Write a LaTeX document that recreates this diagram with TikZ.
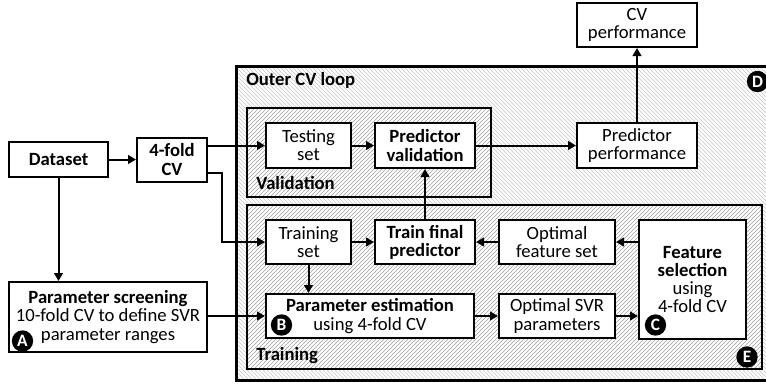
\documentclass[tikz,border=0pt]{standalone}
\usepackage{fontspec}
\setmainfont{Carlito}
\usetikzlibrary{arrows.meta,patterns}
\begin{document}
\begin{tikzpicture}[x=0.75pt,y=-0.75pt,
  font=\fontsize{14}{13.6}\selectfont,
  box/.style={draw, line width=1.5pt, fill=white, inner sep=0pt, align=center},
  sz/.style 2 args={minimum width=#1, minimum height=#2},
  arr/.style={-{Triangle[length=6pt,width=6.5pt]}, line width=1.5pt},
  ln/.style={line width=1.5pt},
  badge/.style={circle, fill=black, text=white, inner sep=0pt, minimum size=16pt, font=\fontsize{13}{13}\selectfont\bfseries},
  lbl/.style={anchor=west, inner sep=0pt, font=\fontsize{14}{13.6}\selectfont\bfseries}]
\useasboundingbox (0,0) rectangle (766,383);
% outer CV loop
\fill[white] (236,66) rectangle (772,380);
\fill[pattern=north west lines, pattern color=gray!45] (236,66) rectangle (772,380);
\draw[line width=2.25pt] (236,66) rectangle (772,380);
\node[lbl] (outerlbl) at (246,80) {Outer CV loop};
% validation box
\fill[white] (247,108) rectangle (491,197);
\fill[pattern=north east lines, pattern color=gray!75] (247,108) rectangle (491,197);
\draw[ln] (247,108) rectangle (491,197);
\node[lbl] (vallbl) at (256,183) {Validation};
% training box
\fill[white] (247,205) rectangle (762,369);
\fill[pattern=north east lines, pattern color=gray!75] (247,205) rectangle (762,369);
\draw[ln] (247,205) rectangle (762,369);
\node[lbl] (trlbl) at (256,356) {Training};
% nodes
\node[box, sz={74.25pt}{26.25pt}] (dataset) at (58.5,159.5) {\textbf{Dataset}};
\node[box, sz={52.5pt}{33pt}] (fourfold) at (172,159.5) {\textbf{4-fold}\\\textbf{CV}};
\node[box, sz={148.5pt}{52.5pt}] (screen) at (108,317) {\textbf{Parameter screening}\\10-fold CV to define SVR\\parameter ranges};
\node[box, sz={63.75pt}{33.75pt}] (testing) at (308.5,145.5) {Testing\\set};
\node[box, sz={75pt}{33.75pt}] (predval) at (425,145.5) {\textbf{Predictor}\\\textbf{validation}};
\node[box, sz={90pt}{33.75pt}] (predperf) at (637,145.5) {Predictor\\performance};
\node[box, sz={90pt}{33pt}] (cvperf) at (637,25) {CV\\performance};
\node[box, sz={63.75pt}{33pt}] (trainset) at (308.5,242) {Training\\set};
\node[box, sz={75pt}{33pt}] (trainfinal) at (425,242) {\textbf{Train final}\\\textbf{predictor}};
\node[box, sz={87pt}{33pt}] (optfeat) at (557,242) {Optimal\\feature set};
\node[box, sz={80.25pt}{89.25pt}] (featsel) at (692.5,279.5) {\textbf{Feature}\\\textbf{selection}\\using\\4-fold CV};
\node[box, sz={156pt}{33pt}] (est) at (370,316) {\textbf{Parameter estimation}\\using 4-fold CV};
\node[box, sz={87pt}{33pt}] (optsvr) at (557,316) {Optimal SVR\\parameters};
% badges
\node[badge] (bA) at (22.5,341) {A};
\node[badge] (bB) at (281.5,325) {B};
\node[badge] (bC) at (655.5,325) {C};
\node[badge] (bD) at (757.5,81.5) {D};
\node[badge] (bE) at (747,357) {E};
% connectors
\coordinate (k1) at (222,173);
\draw[arr] (dataset) -- (fourfold);
\draw[arr] (dataset.south) -- (dataset.south |- screen.north);
\draw[arr] (fourfold.east |- testing.west) -- (testing.west);
\draw[arr] (fourfold.east |- k1) -- (k1) |- (trainset.west);
\draw[arr] (screen.east |- est.west) -- (est.west);
\draw[arr] (testing) -- (predval);
\draw[arr] (predval) -- (predperf);
\draw[arr] (predperf) -- (cvperf);
\draw[arr] (trainfinal) -- (predval);
\draw[arr] (trainset) -- (trainfinal);
\draw[arr] (optfeat) -- (trainfinal);
\draw[arr] (featsel.west |- optfeat.east) -- (optfeat.east);
\draw[arr] (trainset.south) -- (trainset.south |- est.north);
\draw[arr] (est) -- (optsvr);
\draw[arr] (optsvr.east) -- (optsvr.east -| featsel.west);
\end{tikzpicture}
\end{document}
